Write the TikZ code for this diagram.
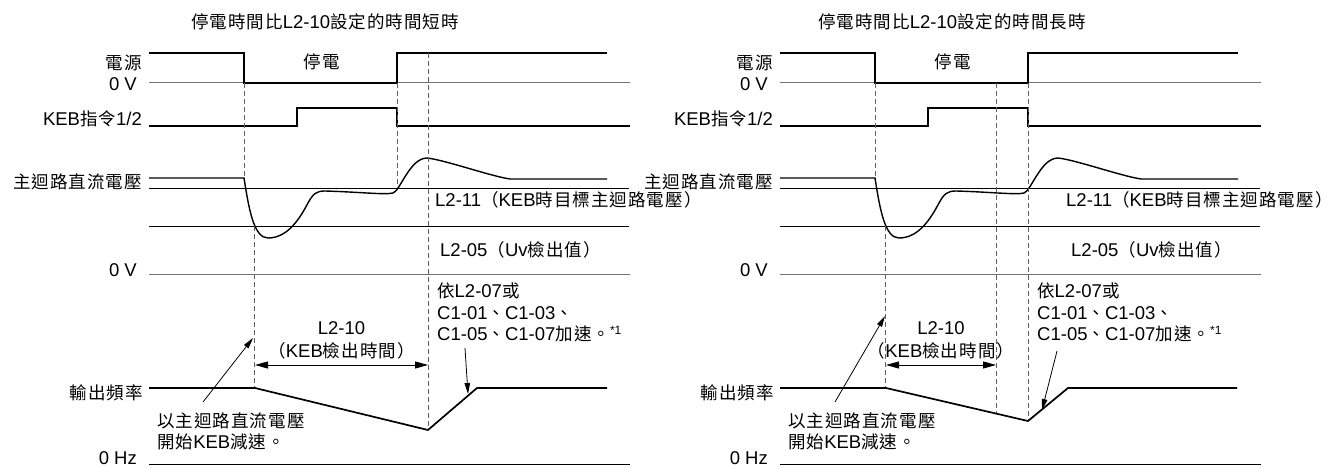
\documentclass[tikz,border=0pt]{standalone}
\usepackage{fontspec}
\setmainfont{Liberation Sans}
\newfontfamily\cjkfont[LetterSpace=6]{Noto Sans CJK TC}
\newcommand{\C}[1]{{\cjkfont\fontsize{17.5}{20}\selectfont #1}}
\usetikzlibrary{arrows.meta}
\tikzset{
  lbl/.style={font=\fontsize{18.5}{22}\selectfont, inner sep=0pt},
  sig/.style={line width=1.7pt},
  curve/.style={line width=1.4pt},
  thinline/.style={line width=0.9pt},
  zeroline/.style={line width=1pt, draw=black!55},
  dline/.style={line width=1pt, draw=black!62, dash pattern=on 5pt off 3pt},
  ann/.style={line width=0.8pt, -{Triangle[length=11pt,width=5.5pt]}},
  dim/.style={line width=0.9pt, {Triangle[length=13pt,width=7pt]}-{Triangle[length=13pt,width=7pt]}},
}
\begin{document}
\begin{tikzpicture}[x=1pt,y=-1pt]
\path[fill=white] (0,0) rectangle (1333,468);
\useasboundingbox (0,0) rectangle (1333,468);

% titles
\node[lbl,anchor=west] (tL) at (191,22) {\C{停電時間比}L2-10\C{設定的時間短時}};
\node[lbl,anchor=west] (tR) at (818,22) {\C{停電時間比}L2-10\C{設定的時間長時}};

\foreach \o/\p in {0/L,631/R}{
\begin{scope}[xshift=\o pt]
  \node[lbl,anchor=east] (\p-pw) at (142,63) {\C{電源}};
  \node[lbl,anchor=east] (\p-pw0) at (137,84) {0 V};
  \node[lbl,anchor=east] (\p-keb) at (142,119) {KEB\C{指令}1/2};
  \node[lbl,anchor=east] (\p-dc) at (142,182) {\C{主迴路直流電壓}};
  \node[lbl,anchor=east] (\p-dc0) at (137,270) {0 V};
  \node[lbl,anchor=east] (\p-fq) at (143,393) {\C{輸出頻率}};
  \node[lbl,anchor=east] (\p-fq0) at (137,458) {0 Hz};
  \node[lbl] (\p-off) at (322,62) {\C{停電}};
  \node[lbl,anchor=west] (\p-l211) at (435,200) {L2-11\C{（}KEB\C{時目標主迴路電壓）}};
  \node[lbl,anchor=west] (\p-l205) at (440,250) {L2-05\C{（}Uv\C{檢出值）}};
  \node[lbl,anchor=west] (\p-s1) at (157,421) {\C{以主迴路直流電壓}};
  \node[lbl,anchor=west] (\p-s2) at (157,442) {\C{開始}KEB\C{減速。}};

  % power
  \draw[zeroline] (149,83) -- (630,83);
  \draw[sig] (149,53) -- (244,53) -- (244,83) -- (397,83) -- (397,53) -- (607,53);
  % KEB command
  \draw[sig] (149,126) -- (297,126) -- (297,108) -- (397,108) -- (397,126) -- (630,126);
  % DC bus
  \draw[thinline] (149,188) -- (629,188);
  \draw[thinline] (149,226) -- (629,226);
  \draw[zeroline] (149,274) -- (630,274);
  \draw[curve] (149,178) -- (244,178)
     .. controls (249,210) and (254,238) .. (268,238)
     .. controls (288,238) and (300,218) .. (308,203)
     .. controls (313,194) and (316,191) .. (325,191)
     .. controls (360,192) and (385,195) .. (393,193)
     .. controls (400,191) and (410,158) .. (427,158)
     .. controls (445,160) and (490,176) .. (510,179) -- (607,179);
  % output frequency zero
  \draw[thinline] (149,464) -- (630,464);
  % dashed
  \draw[dline] (244,83) -- (244,178);
  \draw[dline] (254.5,226) -- (254.5,388);
  \draw[dline] (397,83) -- (397,186);
\end{scope}
}

% ---- left specifics
\draw[dline] (428,53) -- (428,430);
\draw[sig] (149,388) -- (255,388) -- (428,430) -- (477,388) -- (607,388);
\node[lbl] (L-t1) at (341.5,328) {L2-10};
\node[lbl] (L-t2) at (341.5,351) {\C{（}KEB\C{檢出時間）}};
\coordinate (L-d1) at (255,365);
\coordinate (L-d2) at (428,365);
\draw[dim] (L-d1) -- (L-d2);
\node[lbl,anchor=west] (L-a1) at (437,291) {\C{依}L2-07\C{或}};
\node[lbl,anchor=west] (L-a2) at (437,313) {C1-01\C{、}C1-03\C{、}};
\node[lbl,anchor=west] (L-a3) at (437,334) {C1-05\C{、}C1-07\C{加速。}\raisebox{6pt}{\fontsize{12}{12}\selectfont *1}};
\coordinate (L-p1) at (203,402);
\coordinate (L-q1) at (253,338);
\draw[ann] (L-p1) -- (L-q1);
\coordinate (L-p2) at (465,348);
\coordinate (L-q2) at (468,394);
\draw[ann] (L-p2) -- (L-q2);

% ---- right specifics
\draw[dline] (996,83) -- (996,413);
\draw[dline] (1028,83) -- (1028,421);
\draw[sig] (780,388) -- (886,388) -- (1028,421) -- (1068,388) -- (1237,388);
\node[lbl] (R-t1) at (941,328) {L2-10};
\node[lbl] (R-t2) at (941,351) {\C{（}KEB\C{檢出時間）}};
\coordinate (R-d1) at (886,365);
\coordinate (R-d2) at (996,365);
\draw[dim] (R-d1) -- (R-d2);
\node[lbl,anchor=west] (R-a1) at (1037,291) {\C{依}L2-07\C{或}};
\node[lbl,anchor=west] (R-a2) at (1037,313) {C1-01\C{、}C1-03\C{、}};
\node[lbl,anchor=west] (R-a3) at (1037,334) {C1-05\C{、}C1-07\C{加速。}\raisebox{6pt}{\fontsize{12}{12}\selectfont *1}};
\coordinate (R-p1) at (835,402);
\coordinate (R-q1) at (885,316);
\draw[ann] (R-p1) -- (R-q1);
\coordinate (R-p2) at (1057,351);
\coordinate (R-q2) at (1042,410);
\draw[ann] (R-p2) -- (R-q2);
\end{tikzpicture}
\end{document}
